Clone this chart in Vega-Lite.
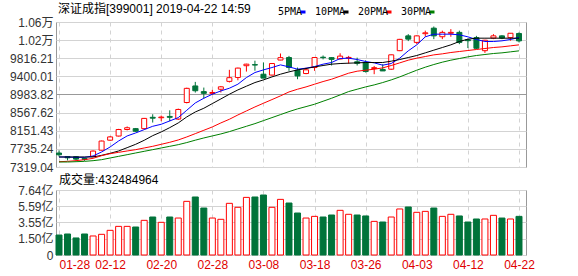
{
  "$schema": "https://vega.github.io/schema/vega-lite/v6.json",
  "padding": {"left": 8, "top": 2, "right": 5, "bottom": 2},
  "background": "white",
  "spacing": -1,
  "config": {
    "font": "Liberation Sans, Noto Sans CJK SC",
    "view": {"stroke": "#999999", "strokeWidth": 1},
    "axis": {"labelFont": "Liberation Sans, Noto Sans CJK SC", "labelFontSize": 12, "labelColor": "#333333", "ticks": false, "domain": false, "title": null, "gridColor": "#d3d3d3", "gridWidth": 1, "labelPadding": 3, "labelOverlap": false, "labelBound": false},
    "title": {"font": "Liberation Sans, Noto Sans CJK SC", "fontSize": 12, "fontWeight": "normal", "color": "#000000", "anchor": "start", "frame": "group"}
  },
  "data": {"values": [
    {"d":"01-28","o":7640,"h":7700,"l":7560,"c":7600,"v":1.97,"5PMA":7549,"10PMA":7549,"20PMA":7441,"30PMA":7434},
    {"d":"01-29","o":7555,"h":7570,"l":7470,"c":7530,"v":2.10,"5PMA":7549,"10PMA":7549,"20PMA":7449,"30PMA":7434},
    {"d":"01-30","o":7555,"h":7570,"l":7470,"c":7500,"v":1.60,"5PMA":7541,"10PMA":7549,"20PMA":7464,"30PMA":7441},
    {"d":"01-31","o":7515,"h":7535,"l":7460,"c":7495,"v":2.10,"5PMA":7541,"10PMA":7549,"20PMA":7487,"30PMA":7449},
    {"d":"02-01","o":7560,"h":7700,"l":7550,"c":7685,"v":1.85,"5PMA":7572,"10PMA":7549,"20PMA":7518,"30PMA":7464},
    {"d":"02-11","o":7705,"h":7925,"l":7700,"c":7915,"v":2.06,"5PMA":7664,"10PMA":7587,"20PMA":7579,"30PMA":7487},
    {"d":"02-12","o":7935,"h":8030,"l":7920,"c":8010,"v":2.56,"5PMA":7779,"10PMA":7633,"20PMA":7625,"30PMA":7526},
    {"d":"02-13","o":8030,"h":8195,"l":8020,"c":8180,"v":3.06,"5PMA":7917,"10PMA":7687,"20PMA":7656,"30PMA":7564},
    {"d":"02-14","o":8180,"h":8250,"l":8160,"c":8220,"v":3.06,"5PMA":8032,"10PMA":7763,"20PMA":7687,"30PMA":7602},
    {"d":"02-15","o":8200,"h":8215,"l":8125,"c":8140,"v":2.98,"5PMA":8101,"10PMA":7840,"20PMA":7717,"30PMA":7641},
    {"d":"02-18","o":8200,"h":8445,"l":8195,"c":8435,"v":3.82,"5PMA":8177,"10PMA":7932,"20PMA":7756,"30PMA":7679},
    {"d":"02-19","o":8460,"h":8530,"l":8340,"c":8440,"v":4.24,"5PMA":8254,"10PMA":8039,"20PMA":7794,"30PMA":7717},
    {"d":"02-20","o":8450,"h":8500,"l":8370,"c":8465,"v":3.57,"5PMA":8300,"10PMA":8124,"20PMA":7840,"30PMA":7756},
    {"d":"02-21","o":8480,"h":8620,"l":8370,"c":8460,"v":4.24,"5PMA":8377,"10PMA":8223,"20PMA":7886,"30PMA":7794},
    {"d":"02-22","o":8420,"h":8660,"l":8400,"c":8640,"v":4.11,"5PMA":8453,"10PMA":8331,"20PMA":7940,"30PMA":7832},
    {"d":"02-25","o":8800,"h":9140,"l":8780,"c":9125,"v":6.21,"5PMA":8622,"10PMA":8469,"20PMA":8009,"30PMA":7880},
    {"d":"02-26","o":9180,"h":9273,"l":9028,"c":9070,"v":6.76,"5PMA":8790,"10PMA":8583,"20PMA":8085,"30PMA":7935},
    {"d":"02-27","o":9050,"h":9143,"l":8890,"c":9010,"v":5.37,"5PMA":8898,"10PMA":8668,"20PMA":8162,"30PMA":7986},
    {"d":"02-28","o":9010,"h":9090,"l":8975,"c":9030,"v":4.11,"5PMA":8990,"10PMA":8775,"20PMA":8239,"30PMA":8032},
    {"d":"03-01","o":9105,"h":9180,"l":9030,"c":9160,"v":3.95,"5PMA":9066,"10PMA":8882,"20PMA":8331,"30PMA":8078},
    {"d":"03-04","o":9285,"h":9550,"l":9260,"c":9370,"v":5.96,"5PMA":9128,"10PMA":8990,"20PMA":8415,"30PMA":8131},
    {"d":"03-05","o":9375,"h":9600,"l":9310,"c":9590,"v":5.46,"5PMA":9220,"10PMA":9089,"20PMA":8514,"30PMA":8193},
    {"d":"03-06","o":9645,"h":9690,"l":9510,"c":9680,"v":6.71,"5PMA":9373,"10PMA":9174,"20PMA":8606,"30PMA":8254},
    {"d":"03-07","o":9670,"h":9760,"l":9530,"c":9660,"v":6.76,"5PMA":9488,"10PMA":9258,"20PMA":8698,"30PMA":8315},
    {"d":"03-08","o":9450,"h":9720,"l":9360,"c":9360,"v":7.01,"5PMA":9549,"10PMA":9319,"20PMA":8783,"30PMA":8384},
    {"d":"03-11","o":9430,"h":9700,"l":9420,"c":9695,"v":5.46,"5PMA":9603,"10PMA":9388,"20PMA":8867,"30PMA":8453},
    {"d":"03-12","o":9775,"h":9925,"l":9770,"c":9830,"v":6.46,"5PMA":9664,"10PMA":9450,"20PMA":8952,"30PMA":8522},
    {"d":"03-13","o":9833,"h":9870,"l":9527,"c":9603,"v":6.00,"5PMA":9618,"10PMA":9503,"20PMA":9043,"30PMA":8591},
    {"d":"03-14","o":9540,"h":9603,"l":9335,"c":9410,"v":4.74,"5PMA":9565,"10PMA":9549,"20PMA":9105,"30PMA":8653},
    {"d":"03-15","o":9465,"h":9600,"l":9450,"c":9550,"v":4.11,"5PMA":9588,"10PMA":9580,"20PMA":9158,"30PMA":8706},
    {"d":"03-18","o":9603,"h":9845,"l":9527,"c":9833,"v":4.32,"5PMA":9626,"10PMA":9618,"20PMA":9220,"30PMA":8760},
    {"d":"03-19","o":9840,"h":9880,"l":9790,"c":9830,"v":4.24,"5PMA":9680,"10PMA":9649,"20PMA":9281,"30PMA":8829},
    {"d":"03-20","o":9830,"h":9840,"l":9650,"c":9790,"v":4.49,"5PMA":9718,"10PMA":9680,"20PMA":9335,"30PMA":8898},
    {"d":"03-21","o":9800,"h":9930,"l":9790,"c":9865,"v":5.08,"5PMA":9810,"10PMA":9695,"20PMA":9404,"30PMA":8974},
    {"d":"03-22","o":9820,"h":9870,"l":9690,"c":9835,"v":4.58,"5PMA":9818,"10PMA":9703,"20PMA":9473,"30PMA":9051},
    {"d":"03-25","o":9735,"h":9830,"l":9650,"c":9700,"v":4.49,"5PMA":9787,"10PMA":9710,"20PMA":9519,"30PMA":9105},
    {"d":"03-26","o":9718,"h":9770,"l":9488,"c":9511,"v":4.37,"5PMA":9741,"10PMA":9718,"20PMA":9542,"30PMA":9158},
    {"d":"03-27","o":9580,"h":9640,"l":9450,"c":9600,"v":3.69,"5PMA":9710,"10PMA":9718,"20PMA":9565,"30PMA":9204},
    {"d":"03-28","o":9560,"h":9680,"l":9525,"c":9525,"v":3.61,"5PMA":9657,"10PMA":9718,"20PMA":9595,"30PMA":9258},
    {"d":"03-29","o":9565,"h":9900,"l":9550,"c":9895,"v":4.24,"5PMA":9695,"10PMA":9749,"20PMA":9649,"30PMA":9319},
    {"d":"04-01","o":9990,"h":10260,"l":9980,"c":10250,"v":5.25,"5PMA":9818,"10PMA":9787,"20PMA":9710,"30PMA":9388},
    {"d":"04-02","o":10330,"h":10370,"l":10210,"c":10255,"v":5.50,"5PMA":9986,"10PMA":9833,"20PMA":9772,"30PMA":9465},
    {"d":"04-03","o":10180,"h":10340,"l":10140,"c":10330,"v":4.83,"5PMA":10124,"10PMA":9879,"20PMA":9818,"30PMA":9542},
    {"d":"04-04","o":10380,"h":10450,"l":10310,"c":10400,"v":4.95,"5PMA":10308,"10PMA":9940,"20PMA":9856,"30PMA":9611},
    {"d":"04-08","o":10507,"h":10545,"l":10255,"c":10330,"v":5.37,"5PMA":10369,"10PMA":10002,"20PMA":9894,"30PMA":9672},
    {"d":"04-09","o":10310,"h":10450,"l":10255,"c":10410,"v":4.32,"5PMA":10369,"10PMA":10063,"20PMA":9917,"30PMA":9726},
    {"d":"04-10","o":10390,"h":10485,"l":10310,"c":10410,"v":4.58,"5PMA":10369,"10PMA":10124,"20PMA":9948,"30PMA":9772},
    {"d":"04-11","o":10410,"h":10450,"l":10140,"c":10180,"v":4.37,"5PMA":10354,"10PMA":10201,"20PMA":9971,"30PMA":9810},
    {"d":"04-12","o":10240,"h":10270,"l":10050,"c":10220,"v":3.61,"5PMA":10308,"10PMA":10254,"20PMA":9994,"30PMA":9848},
    {"d":"04-15","o":10290,"h":10330,"l":10025,"c":10045,"v":3.99,"5PMA":10247,"10PMA":10277,"20PMA":10017,"30PMA":9879},
    {"d":"04-16","o":9990,"h":10240,"l":9940,"c":10230,"v":3.99,"5PMA":10201,"10PMA":10277,"20PMA":10040,"30PMA":9902},
    {"d":"04-17","o":10280,"h":10370,"l":10255,"c":10330,"v":4.45,"5PMA":10201,"10PMA":10277,"20PMA":10063,"30PMA":9925},
    {"d":"04-18","o":10330,"h":10345,"l":10255,"c":10280,"v":4.11,"5PMA":10216,"10PMA":10277,"20PMA":10078,"30PMA":9940},
    {"d":"04-19","o":10290,"h":10395,"l":10220,"c":10390,"v":3.99,"5PMA":10247,"10PMA":10277,"20PMA":10101,"30PMA":9963},
    {"d":"04-22","o":10385,"h":10410,"l":10180,"c":10215,"v":4.32,"5PMA":10293,"10PMA":10277,"20PMA":10124,"30PMA":9986}
  ]},
  "vconcat": [
    {
      "width": 470,
      "height": 145,
      "title": {"text": "深证成指[399001] 2019-04-22 14:59", "dx": 2, "offset": 0},
      "layer": [
        {
          "mark": {"type": "rule", "strokeWidth": 1},
          "encoding": {
            "x": {"field": "d", "type": "ordinal", "scale": {"type": "point", "padding": 0.587, "align": 0.3},
                  "axis": {"labels": false, "grid": true, "gridDash": [4, 4], "labelAngle": 0,
                           "values": ["01-28","02-12","02-20","02-28","03-08","03-18","03-26","04-03","04-12","04-22"]}},
            "y": {"field": "l", "type": "quantitative",
                  "scale": {"domain": [7319.04, 10648.56], "nice": false, "zero": false},
                  "axis": {"values": [7319.04, 7735.24, 8151.43, 8567.62, 8983.82, 9400.01, 9816.21, 10232.37, 10648.56],
                           "labelExpr": "datum.value >= 10000 ? format(datum.value / 10000, '.2f') + '万' : format(datum.value, '.2f')",
                           "gridColor": {"condition": {"test": "datum.value == 8983.82", "value": "#999999"}, "value": "#d3d3d3"},
                           "minExtent": 47, "maxExtent": 47, "labelOverlap": false}},
            "y2": {"field": "h"},
            "color": {"condition": {"test": "datum.c >= datum.o", "value": "#ff0000"}, "value": "#00733a"}
          }
        },
        {
          "mark": {"type": "bar", "size": 5, "strokeWidth": 1},
          "encoding": {
            "x": {"field": "d", "type": "ordinal",
                  "axis": {"labels": false, "grid": true, "gridDash": [4, 4], "labelAngle": 0,
                           "values": ["01-28","02-12","02-20","02-28","03-08","03-18","03-26","04-03","04-12","04-22"]}},
            "y": {"field": "o", "type": "quantitative",
                  "axis": {"values": [7319.04, 7735.24, 8151.43, 8567.62, 8983.82, 9400.01, 9816.21, 10232.37, 10648.56],
                           "labelExpr": "datum.value >= 10000 ? format(datum.value / 10000, '.2f') + '万' : format(datum.value, '.2f')",
                           "gridColor": {"condition": {"test": "datum.value == 8983.82", "value": "#999999"}, "value": "#d3d3d3"},
                           "minExtent": 47, "maxExtent": 47, "labelOverlap": false}},
            "y2": {"field": "c"},
            "fill": {"condition": {"test": "datum.c >= datum.o", "value": "#ffffff"}, "value": "#00733a"},
            "stroke": {"condition": {"test": "datum.c >= datum.o", "value": "#ff0000"}, "value": "#00733a"}
          }
        },
        {
          "transform": [{"fold": ["5PMA", "10PMA", "20PMA", "30PMA"], "as": ["ma", "val"]}],
          "mark": {"type": "line", "strokeWidth": 1},
          "encoding": {
            "x": {"field": "d", "type": "ordinal",
                  "axis": {"labels": false, "grid": true, "gridDash": [4, 4], "labelAngle": 0,
                           "values": ["01-28","02-12","02-20","02-28","03-08","03-18","03-26","04-03","04-12","04-22"]}},
            "y": {"field": "val", "type": "quantitative",
                  "axis": {"values": [7319.04, 7735.24, 8151.43, 8567.62, 8983.82, 9400.01, 9816.21, 10232.37, 10648.56],
                           "labelExpr": "datum.value >= 10000 ? format(datum.value / 10000, '.2f') + '万' : format(datum.value, '.2f')",
                           "gridColor": {"condition": {"test": "datum.value == 8983.82", "value": "#999999"}, "value": "#d3d3d3"},
                           "minExtent": 47, "maxExtent": 47, "labelOverlap": false}},
            "color": {"field": "ma", "type": "nominal",
                      "scale": {"domain": ["5PMA", "10PMA", "20PMA", "30PMA"], "range": ["#0000ff", "#000000", "#ff0000", "#008000"]},
                      "legend": {"orient": "none", "legendX": 242, "legendY": -15, "direction": "horizontal", "title": null,
                                 "symbolType": "stroke", "symbolStrokeWidth": 3, "symbolSize": 25,
                                 "labelFont": "DejaVu Sans Mono", "labelFontSize": 10, "labelColor": "#000000",
                                 "labelAlign": "right", "labelOffset": -6, "columnPadding": 2, "padding": 0}}
          }
        }
      ]
    },
    {
      "width": 470,
      "height": 65,
      "title": {"text": "成交量:432484964", "dx": 3, "offset": -3},
      "mark": {"type": "bar", "size": 6, "strokeWidth": 1},
      "encoding": {
        "x": {"field": "d", "type": "ordinal", "scale": {"type": "point", "padding": 0.587, "align": 0.3},
              "axis": {"grid": true, "gridDash": [4, 4], "labelAngle": 0, "labelColor": "#e00000", "labelPadding": 4,
                       "labelAlign": {"condition": {"test": "datum.value == '01-28'", "value": "left"}, "value": "center"},
                       "values": ["01-28","02-12","02-20","02-28","03-08","03-18","03-26","04-03","04-12","04-22"]}},
        "y": {"field": "v", "type": "quantitative",
              "scale": {"domain": [-0.545, 7.64], "nice": false, "zero": false},
              "axis": {"values": [-0.545, 1.5013, 3.5476, 5.5938, 7.64],
                       "labelExpr": "datum.value < 0 ? '0' : format(datum.value, '.2f') + '亿'",
                       "minExtent": 47, "maxExtent": 47, "labelOverlap": false}},
        "y2": {"datum": -0.545},
        "fill": {"condition": {"test": "datum.c >= datum.o", "value": "#ffffff"}, "value": "#00733a"},
        "stroke": {"condition": {"test": "datum.c >= datum.o", "value": "#ff0000"}, "value": "#00733a"}
      }
    }
  ]
}
